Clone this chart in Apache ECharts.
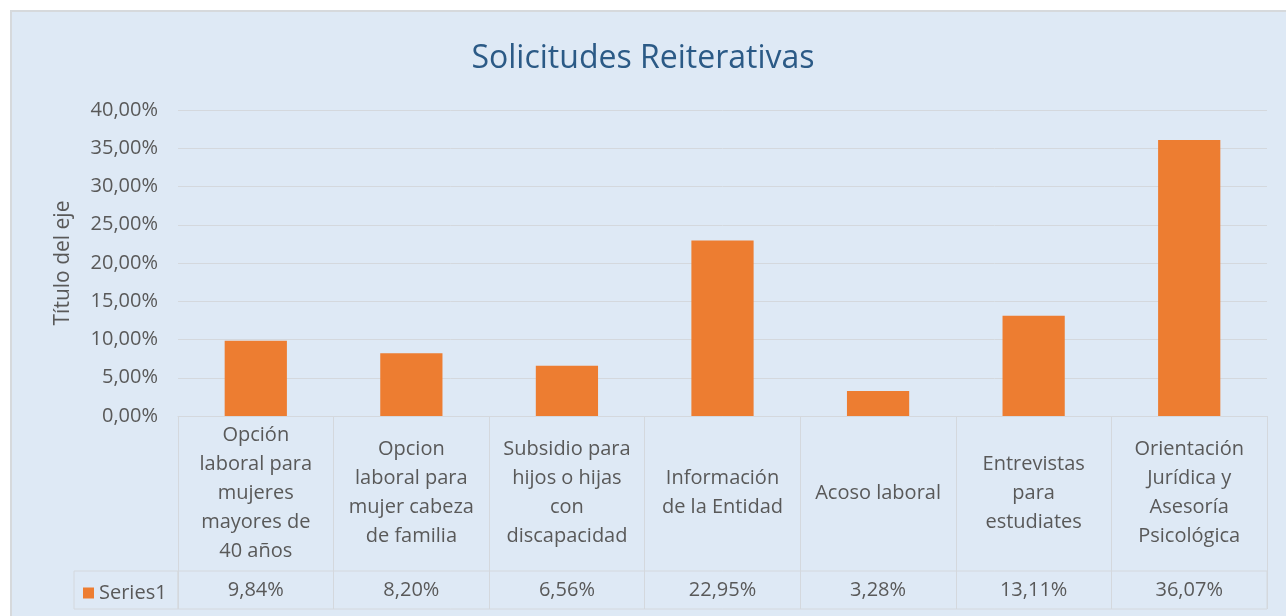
<!DOCTYPE html>
<html>
<head>
<meta charset="utf-8">
<script src="https://cdn.jsdelivr.net/npm/echarts@6/dist/echarts.min.js"></script>
<style>
  html, body { margin: 0; padding: 0; background: #ffffff; }
  #fondo {
    position: absolute; left: 10px; top: 10px; width: 1276px; height: 606px;
    background: #dee9f5; border-left: 2px solid #d6d9dc; border-top: 2px solid #d6d9dc;
    box-sizing: border-box;
  }
  #grafico { position: absolute; left: 0; top: 0; width: 1286px; height: 616px; }
</style>
</head>
<body>
<div id="fondo"></div>
<div id="grafico"></div>
<script>
// datos del grafico
var categorias = [
  'Opción\nlaboral para\nmujeres\nmayores de\n40 años',
  'Opcion\nlaboral para\nmujer cabeza\nde familia',
  'Subsidio para\nhijos o hijas\ncon\ndiscapacidad',
  'Información\nde la Entidad',
  'Acoso laboral',
  'Entrevistas\npara\nestudiates',
  'Orientación\nJurídica y\nAsesoría\nPsicológica'
];
var valores = [0.0984, 0.0820, 0.0656, 0.2295, 0.0328, 0.1311, 0.3607];
var nombreSerie = 'Series1';
var titulo = 'Solicitudes Reiterativas';
var tituloEje = 'Título del eje';

var fuente = 'Open Sans';
var gris = '#595959';
var linea = '#d4d8dd';

function formatoPct(v){
  return (v * 100).toFixed(2).replace('.', ',') + '%';
}

var chart = echarts.init(document.getElementById('grafico'));

var option = {
  title: {
    text: titulo,
    left: 'center',
    top: 38,
    textStyle: { fontFamily: fuente, fontSize: 32, fontWeight: 'normal', color: '#2b5a86' }
  },
  legend: {
    data: [nombreSerie],
    left: 78,
    top: 578,
    icon: 'rect',
    itemWidth: 11,
    itemHeight: 11,
    itemGap: 6,
    textStyle: { fontFamily: fuente, fontSize: 20, color: gris }
  },
  grid: [
    // area de barras
    { left: 178, right: 19, top: 110, bottom: 200 },
    // fila de valores de la tabla
    { left: 178, right: 19, top: 571, height: 38, show: true, borderColor: linea, borderWidth: 1, backgroundColor: 'transparent' },
    // celda de leyenda
    { left: 74, width: 104, top: 571, height: 38, show: true, borderColor: linea, borderWidth: 1, backgroundColor: 'transparent' }
  ],
  xAxis: [
    {
      type: 'category',
      gridIndex: 0,
      data: categorias,
      axisLine: { lineStyle: { color: linea } },
      axisTick: { show: true, length: 193, alignWithLabel: false, lineStyle: { color: linea } },
      axisLabel: {
        interval: 0, margin: 77, verticalAlign: 'middle', align: 'center',
        fontFamily: fuente, fontSize: 20, lineHeight: 29, color: gris
      }
    },
    {
      type: 'category',
      gridIndex: 1,
      data: valores.map(formatoPct),
      axisLine: { show: false },
      axisTick: { show: false },
      axisLabel: {
        interval: 0, margin: -19, verticalAlign: 'middle',
        fontFamily: fuente, fontSize: 20, color: gris
      }
    },
    { type: 'category', gridIndex: 2, show: false, data: [''] }
  ],
  yAxis: [
    {
      type: 'value',
      gridIndex: 0,
      min: 0,
      max: 0.4,
      interval: 0.05,
      name: tituloEje,
      nameLocation: 'middle',
      nameGap: 104,
      nameTextStyle: { fontFamily: fuente, fontSize: 21, color: gris },
      axisLine: { show: false },
      axisTick: { show: false },
      axisLabel: { formatter: formatoPct, margin: 20, fontFamily: fuente, fontSize: 20, color: gris },
      splitLine: { lineStyle: { color: linea } }
    },
    { type: 'value', gridIndex: 1, show: false, splitLine: { show: false } },
    { type: 'value', gridIndex: 2, show: false, splitLine: { show: false } }
  ],
  series: [
    {
      name: nombreSerie,
      type: 'bar',
      xAxisIndex: 0,
      yAxisIndex: 0,
      data: valores,
      barWidth: '40%',
      itemStyle: { color: '#ed7d31' }
    }
  ]
};

chart.setOption(option);
</script>
</body>
</html>
